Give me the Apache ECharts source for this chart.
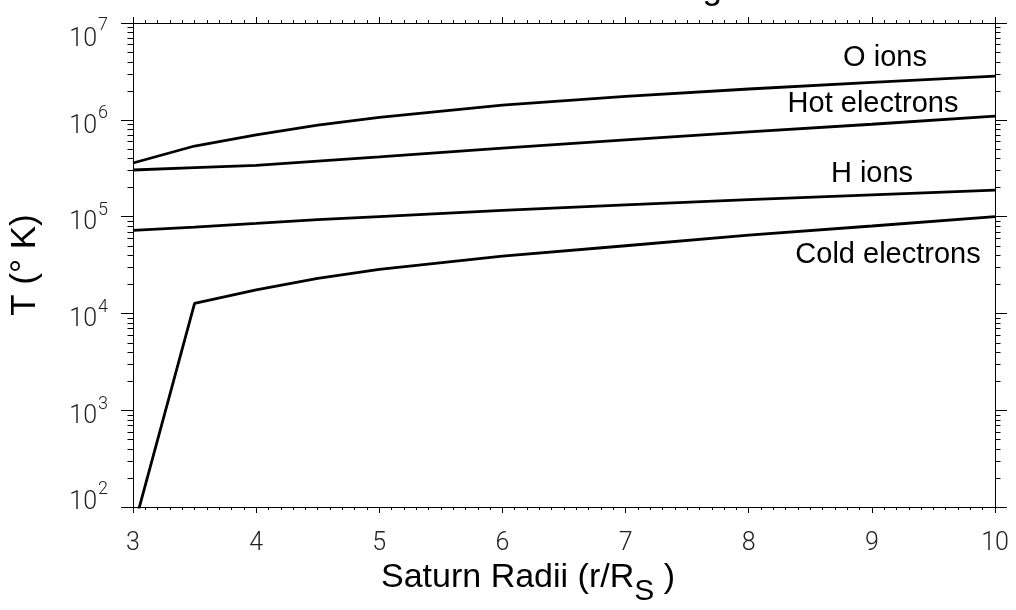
<!DOCTYPE html>
<html>
<head>
<meta charset="utf-8">
<script src="https://cdn.jsdelivr.net/npm/echarts@6/dist/echarts.min.js"></script>
<style>html,body{margin:0;padding:0;background:#fff}#c{width:1016px;height:610px}</style>
</head>
<body>
<div id="c"></div>
<script>
// ---- data ----
const radii = [3, 3.5, 4, 4.5, 5, 6, 7, 8, 9, 10];
const oIons = [3.58e5, 5.36e5, 6.97e5, 8.8e5, 1.06e6, 1.42e6, 1.75e6, 2.08e6, 2.43e6, 2.83e6];
const hotElectrons = [3.03e5, 3.2e5, 3.38e5, 3.75e5, 4.15e5, 5.1e5, 6.2e5, 7.5e5, 9.0e5, 1.09e6];
const hIons = [7.2e4, 7.8e4, 8.5e4, 9.3e4, 1.0e5, 1.16e5, 1.32e5, 1.5e5, 1.68e5, 1.88e5];
const coldElectrons = [57, 1.27e4, 1.75e4, 2.3e4, 2.85e4, 3.9e4, 5.0e4, 6.45e4, 8.0e4, 1.0e5];
const seriesNames = ['O ions', 'Hot electrons', 'H ions', 'Cold electrons'];
const xTickLabels = [3, 4, 5, 6, 7, 8, 9, 10];
const yDecades = [1e2, 1e3, 1e4, 1e5, 1e6, 1e7];
const minorMultipliers = [2, 3, 4, 5, 6, 7, 8, 9];
const titleText = 'Saturn Plasma Energies';
const xName = 'Saturn Radii (r/R{s|S}{m| )}';
const yName = 'T (\u00B0 K)';

const pairs = vals => radii.map((r, i) => [r, vals[i]]);
const yMinor = [];
yDecades.slice(0, -1).forEach(d => minorMultipliers.forEach(m => yMinor.push([radii[0], d * m])));

const tickFont = 'Roboto';
const textFont = '"Liberation Sans", Arial, sans-serif';

const chart = echarts.init(document.getElementById('c'), null, {renderer: 'canvas'});
const lineSeries = (name, vals) => ({
  name, type: 'line', data: pairs(vals), showSymbol: false, symbol: 'none',
  lineStyle: {color: '#000', width: 2.8}, clip: true, z: 3, silent: true
});

const xCommon = {
  type: 'value', min: 3, max: 10, interval: 1,
  axisLine: {show: true, onZero: false, lineStyle: {color: '#000', width: 1}},
  axisTick: {show: true, inside: false, length: 6, lineStyle: {color: '#000', width: 1}},
  minorTick: {show: true, splitNumber: 10, length: 3, lineStyle: {color: '#000', width: 1}},
  splitLine: {show: false}, minorSplitLine: {show: false}
};
const yCommon = {
  type: 'log', logBase: 10, min: 100, max: 1e7,
  axisLine: {show: true, onZero: false, lineStyle: {color: '#000', width: 1}},
  axisTick: {show: true, inside: false, length: 12, lineStyle: {color: '#000', width: 1}},
  minorTick: {show: false},
  splitLine: {show: false}
};
const lab = {fontFamily: tickFont, fontWeight: 300, color: '#222', verticalAlign: 'top'};
const mainLab = (lh, pt) => Object.assign({}, lab, {fontSize: 25, lineHeight: lh, padding: [pt, 0, 0, 0]});
const supLab = pt => Object.assign({}, lab, {fontSize: 18, lineHeight: 18, padding: [pt, 0, 0, 1]});

chart.setOption({
  animation: false,
  backgroundColor: '#fff',
  grid: {left: 133, right: 21, top: 23, bottom: 103, containLabel: false, outerBoundsMode: 'none'},
  xAxis: [
    Object.assign({}, xCommon, {
      position: 'bottom',
      axisLabel: {show: true, margin: 24, fontSize: 25, fontFamily: tickFont, fontWeight: 300, color: '#222'},
      name: xName, nameLocation: 'middle', nameGap: 46,
      nameTextStyle: {
        fontSize: 34, fontFamily: textFont, color: '#000', lineHeight: 34, padding: [0, 72, 0, 0],
        verticalAlign: 'top',
        rich: {
          s: {fontSize: 30, fontFamily: textFont, color: '#000', lineHeight: 30, padding: [16, 0, 0, 0], verticalAlign: 'top'},
          m: {fontSize: 34, fontFamily: textFont, color: '#000', lineHeight: 34, verticalAlign: 'top'}
        }
      }
    }),
    Object.assign({}, xCommon, {position: 'top', axisLabel: {show: false}})
  ],
  yAxis: [
    Object.assign({}, yCommon, {
      position: 'left',
      axisLabel: {
        show: true, margin: 25, align: 'right',
        formatter: v => {
          const e = Math.round(Math.log10(v));
          const k = e === 7 ? 't' : (e === 2 ? 'b' : 'n');
          return '{' + k + 'm|10}{' + k + 's|' + e + '}';
        },
        rich: {
          nm: mainLab(30, 9), ns: supLab(0),
          tm: mainLab(30, 19), ts: supLab(8),
          bm: mainLab(54, 10), bs: supLab(0)
        }
      },
      name: yName, nameLocation: 'middle', nameGap: 90,
      nameTextStyle: {fontSize: 35, fontFamily: textFont, color: '#000'}
    }),
    Object.assign({}, yCommon, {position: 'right', axisLabel: {show: false}})
  ],
  series: [
    lineSeries(seriesNames[0], oIons),
    lineSeries(seriesNames[1], hotElectrons),
    lineSeries(seriesNames[2], hIons),
    lineSeries(seriesNames[3], coldElectrons),
    {
      type: 'custom', silent: true, clip: false, z: 4,
      data: yMinor, encode: {x: 0, y: 1},
      renderItem: (params, api) => {
        const v = api.value(1);
        const L = api.coord([3, v]);
        const R = api.coord([10, v]);
        const y = Math.round(L[1]) + 0.5;
        return {type: 'group', children: [
          {type: 'line', shape: {x1: L[0] - 5.5, y1: y, x2: L[0], y2: y}, style: {stroke: '#000', lineWidth: 1}},
          {type: 'line', shape: {x1: R[0], y1: y, x2: R[0] + 5.5, y2: y}, style: {stroke: '#000', lineWidth: 1}}
        ]};
      }
    }
  ],
  graphic: [
    {type: 'text', x: 578, y: -11, silent: true,
     style: {text: titleText, font: '35px ' + textFont, fill: '#000', textAlign: 'center', textVerticalAlign: 'middle', align: 'center', verticalAlign: 'middle'}},
    {type: 'text', x: 885, y: 58, silent: true,
     style: {text: seriesNames[0], font: '29px ' + textFont, fill: '#000', textAlign: 'center', textVerticalAlign: 'middle', align: 'center', verticalAlign: 'middle'}},
    {type: 'text', x: 873, y: 104, silent: true,
     style: {text: seriesNames[1], font: '29px ' + textFont, fill: '#000', textAlign: 'center', textVerticalAlign: 'middle', align: 'center', verticalAlign: 'middle'}},
    {type: 'text', x: 872, y: 174, silent: true,
     style: {text: seriesNames[2], font: '29px ' + textFont, fill: '#000', textAlign: 'center', textVerticalAlign: 'middle', align: 'center', verticalAlign: 'middle'}},
    {type: 'text', x: 888, y: 255, silent: true,
     style: {text: seriesNames[3], font: '29px ' + textFont, fill: '#000', textAlign: 'center', textVerticalAlign: 'middle', align: 'center', verticalAlign: 'middle'}}
  ]
});
</script>
</body>
</html>
